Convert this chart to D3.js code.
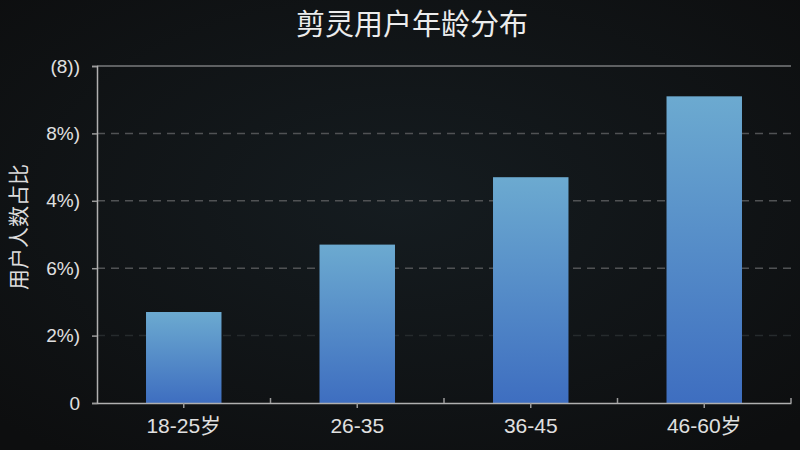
<!DOCTYPE html>
<html>
<head>
<meta charset="utf-8">
<script src="https://cdn.jsdelivr.net/npm/d3@7"></script>
<style>
  html, body { margin: 0; padding: 0; background: #0f1112; }
  svg { display: block; font-family: "Liberation Sans", "Noto Sans CJK SC", sans-serif; }
  .title { fill: #ececec; font-size: 29px; }
  .axis-title { fill: #dcdcdc; font-size: 21px; }
  .ylab, .xlab { fill: #e0e0e0; }
</style>
</head>
<body>
<svg width="800" height="450"></svg>
<script>
var categories = ["18-25岁", "26-35", "36-45", "46-60岁"];
var shares = [2.7, 4.7, 6.7, 9.1];
var yTicks = [0, 2, 4, 6, 8, 10];
var yTickLabels = ["0", "2%)", "6%)", "4%)", "8%)", "(8))"];

var svg = d3.select("svg");
var plotLeft = 97, plotRight = 791, plotTop = 66, plotBottom = 403;

var defs = svg.append("defs");
var bg = defs.append("radialGradient").attr("id", "bg")
    .attr("cx", "50%").attr("cy", "45%").attr("r", "70%");
bg.append("stop").attr("offset", "0%").attr("stop-color", "#151c20");
bg.append("stop").attr("offset", "100%").attr("stop-color", "#0d0e0f");

var barGrad = defs.append("linearGradient").attr("id", "barGrad")
    .attr("x1", 0).attr("y1", 0).attr("x2", 0).attr("y2", 1);
barGrad.append("stop").attr("offset", "0%").attr("stop-color", "#6caad0");
barGrad.append("stop").attr("offset", "100%").attr("stop-color", "#3e6ec0");

svg.append("rect").attr("width", 800).attr("height", 450).attr("fill", "url(#bg)");

svg.append("text")
    .attr("class", "title")
    .attr("x", 412)
    .attr("y", 35)
    .attr("text-anchor", "middle")
    .text("剪灵用户年龄分布");

var xScale = d3.scaleBand().domain(categories).range([plotLeft, plotRight]).padding(0);
var yScale = d3.scaleLinear().domain([0, 10]).range([plotBottom, plotTop]);

// grid lines
svg.append("g").selectAll("line")
    .data(yTicks.filter(function(d) { return d > 0; }))
    .enter()
    .append("line")
    .attr("x1", plotLeft)
    .attr("x2", plotRight)
    .attr("y1", function(d) { return yScale(d); })
    .attr("y2", function(d) { return yScale(d); })
    .attr("stroke", function(d) { return d === 10 ? "#5e6062" : (d === 2 ? "#262b2d" : "#505254"); })
    .attr("stroke-width", function(d) { return d === 10 ? 2 : 1.5; })
    .attr("stroke-dasharray", function(d) { return d === 10 ? null : "8,6"; });

// bars
var barW = xScale.bandwidth() * 0.435;
svg.append("g").selectAll(".bar")
    .data(shares)
    .enter()
    .append("rect")
    .attr("class", "bar")
    .attr("x", function(d, i) { return xScale(categories[i]) + (xScale.bandwidth() - barW) / 2; })
    .attr("y", function(d) { return yScale(d); })
    .attr("width", barW)
    .attr("height", function(d) { return plotBottom - yScale(d); })
    .attr("fill", "url(#barGrad)");

// y axis
var yAxis = svg.append("g")
    .attr("transform", "translate(" + plotLeft + ",0)")
    .call(d3.axisLeft(yScale)
        .tickValues(yTicks)
        .tickFormat(function(d, i) { return yTickLabels[i]; })
        .tickSize(5)
        .tickPadding(12));
yAxis.attr("font-family", null).attr("font-size", null);
yAxis.select(".domain").attr("stroke", "#b0b0b0").attr("stroke-width", 1.5);
yAxis.selectAll(".tick line").attr("stroke", "#9a9a9a").attr("stroke-width", 1.5);
yAxis.selectAll(".tick text").attr("class", "ylab").attr("fill", null).style("font-size", "19px");

// x axis
var xAxis = svg.append("g")
    .attr("transform", "translate(0," + plotBottom + ")")
    .call(d3.axisBottom(xScale).tickSize(5).tickSizeOuter(0).tickPadding(10));
xAxis.attr("font-family", null).attr("font-size", null);
xAxis.select(".domain").attr("stroke", "#b0b0b0").attr("stroke-width", 1.5);
xAxis.selectAll(".tick line").attr("stroke", "#9a9a9a").attr("stroke-width", 1.5);
xAxis.selectAll(".tick text").attr("class", "xlab").attr("fill", null).style("font-size", "21px");

// boundary ticks pointing up
xAxis.append("g").selectAll("line")
    .data(categories)
    .enter()
    .append("line")
    .attr("x1", function(d) { return xScale(d) + xScale.bandwidth(); })
    .attr("x2", function(d) { return xScale(d) + xScale.bandwidth(); })
    .attr("y1", 0)
    .attr("y2", -5)
    .attr("stroke", "#9a9a9a")
    .attr("stroke-width", 1.5);

svg.append("text")
    .attr("class", "axis-title")
    .attr("transform", "translate(26,227) rotate(-90)")
    .attr("text-anchor", "middle")
    .text("用户人数占比");
</script>
</body>
</html>
